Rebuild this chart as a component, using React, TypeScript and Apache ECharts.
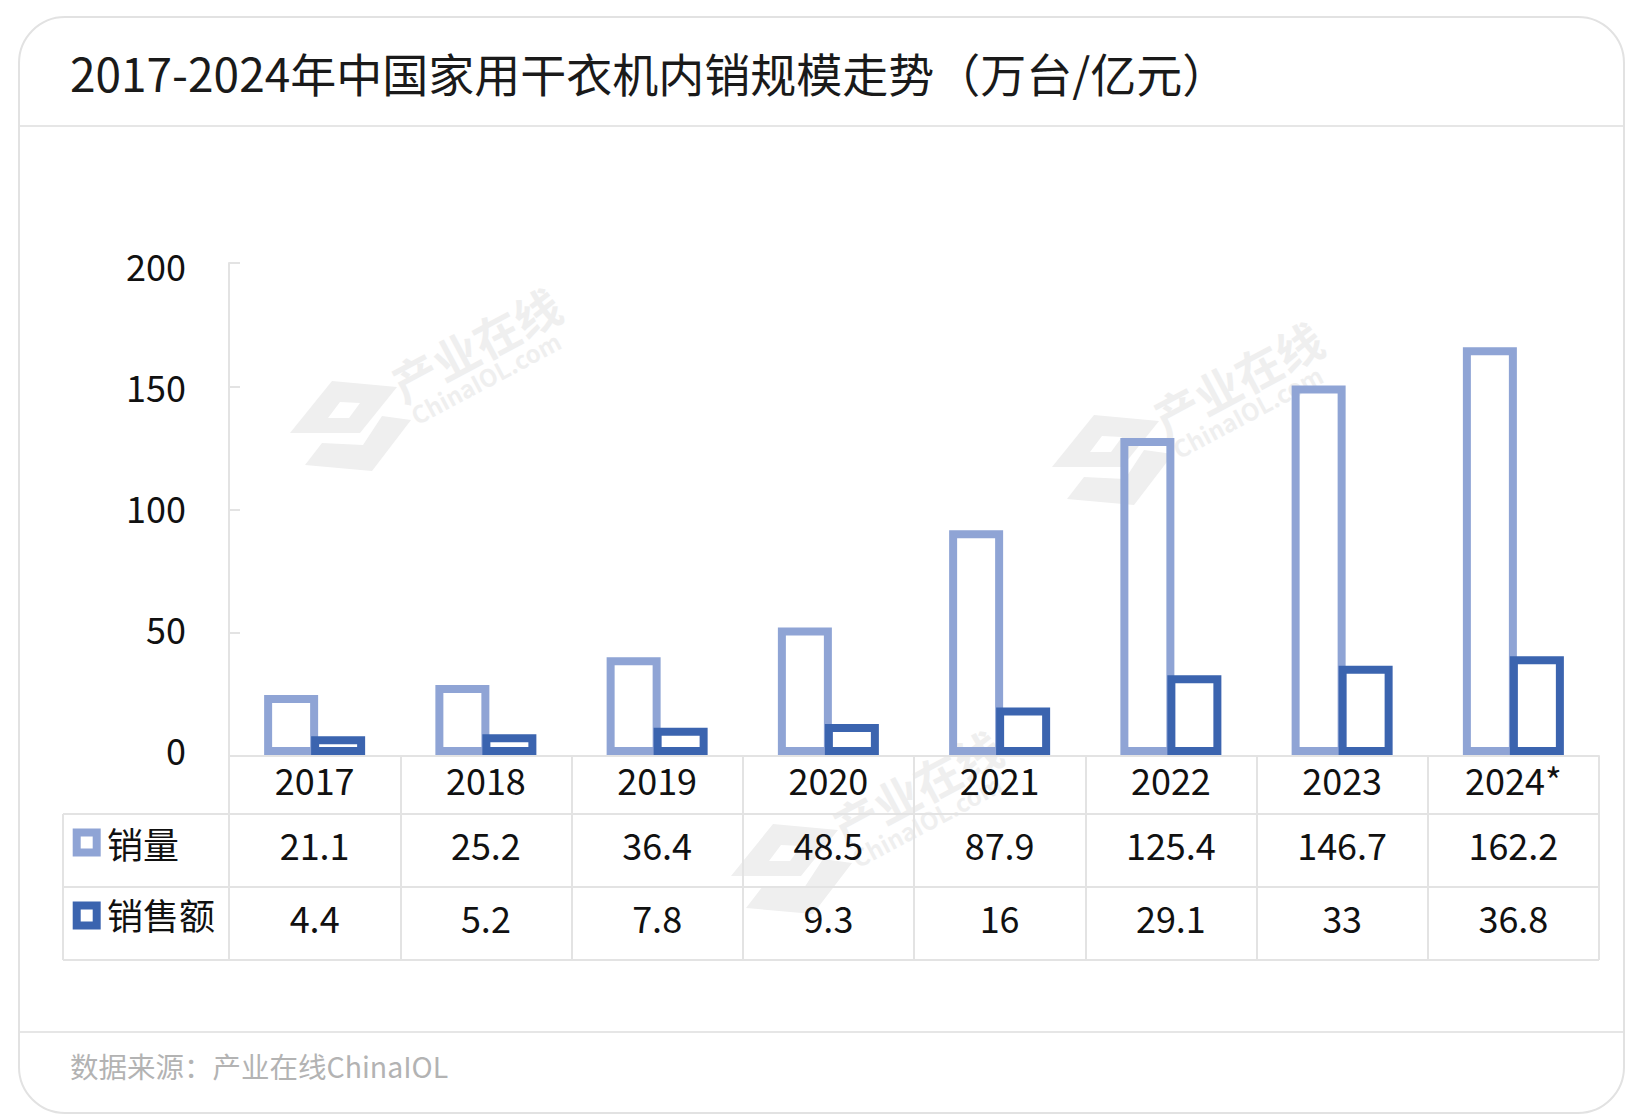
import React, { useEffect, useRef } from "react";
import * as echarts from "echarts";

const years = ["2017", "2018", "2019", "2020", "2021", "2022", "2023", "2024*"];
const salesVolume = [21.1, 25.2, 36.4, 48.5, 87.9, 125.4, 146.7, 162.2];
const salesAmount = [4.4, 5.2, 7.8, 9.3, 16, 29.1, 33, 36.8];
const seriesNames = ["销量", "销售额"];
const yMin = 0;
const yMax = 200;
const yInterval = 50;

const titleText = "2017-2024年中国家用干衣机内销规模走势（万台/亿元）";
const sourceText = "数据来源：产业在线ChinaIOL";

const LIGHT = "#8FA4D5";
const DARK = "#3B64AF";
const GRID_LINE = "#e3e3e3";
const FONT = "'Noto Sans CJK SC', 'Noto Sans', sans-serif";

const W = 1634;
const H = 1116;

const BAR_W = 46;
const BAR_GAP = 1;
const BORDER = 8;

function watermark(ox: number, oy: number) {
  const c = "#efefef";
  return {
    type: "group",
    z: -10,
    silent: true,
    children: [
      {
        type: "polygon",
        shape: { points: [[ox + 42, oy], [ox + 107, oy + 6], [ox + 70, oy + 52], [ox, oy + 52]] },
        style: { fill: c },
      },
      {
        type: "polygon",
        shape: { points: [[ox + 92, oy + 35], [ox + 121, oy + 39], [ox + 82, oy + 90], [ox + 15, oy + 84], [ox + 32, oy + 62], [ox + 73, oy + 64]] },
        style: { fill: c },
      },
      {
        type: "polygon",
        shape: { points: [[ox + 50, oy + 21], [ox + 70, oy + 22], [ox + 59, oy + 37], [ox + 38, oy + 37]] },
        style: { fill: "#ffffff" },
      },
      {
        type: "text",
        x: ox + 115,
        y: oy + 26,
        rotation: 0.49,
        style: {
          text: "产业在线",
          fill: c,
          font: `bold 46px ${FONT}`,
          align: "left",
          verticalAlign: "bottom",
        },
      },
      {
        type: "text",
        x: ox + 128,
        y: oy + 46,
        rotation: 0.49,
        style: {
          text: "ChinaIOL.com",
          fill: c,
          font: `bold 24px ${FONT}`,
          align: "left",
          verticalAlign: "bottom",
        },
      },
    ],
  };
}

function makeBarSeries(name: string, values: number[], color: string, side: number, z: number) {
  return {
    name,
    type: "custom",
    xAxisIndex: 3,
    yAxisIndex: 1,
    z,
    data: values.map((v, i) => [i, v]),
    encode: { x: 0, y: 1 },
    renderItem: (params: any, api: any) => {
      const idx = api.value(0);
      const top = api.coord([idx, api.value(1)]);
      const base = api.coord([idx, 0]);
      const cx = top[0] + side * (BAR_W + BAR_GAP) / 2;
      return {
        type: "rect",
        shape: { x: cx - BAR_W / 2, y: top[1], width: BAR_W, height: base[1] - top[1] },
        style: { fill: "none", stroke: color, lineWidth: BORDER },
      };
    },
  };
}

export default function App() {
  const ref = useRef<HTMLDivElement>(null);

  useEffect(() => {
    if (!ref.current) return;
    const chart = echarts.init(ref.current, undefined, { renderer: "svg" });

    const gridLeft = 229;
    const gridRight = 1599;
    const barTop = 258;
    const barBottom = 751;
    const axisTop = 263;
    const axisBottom = 756;
    const labelTop = 265;
    const labelBottom = 749;
    const tableLeft = 63;
    const rowLines = [814, 887, 960];
    const rowCenters = [843, 914];
    const markerCenters = [842.5, 915.5];

    const hLines = rowLines.map((y) => ({
      type: "line",
      z: 1,
      shape: { x1: tableLeft, y1: y, x2: gridRight, y2: y },
      style: { stroke: GRID_LINE, lineWidth: 2 },
    }));

    const rowHeaders: any[] = [];
    seriesNames.forEach((name, i) => {
      rowHeaders.push({
        type: "rect",
        z: 5,
        shape: { x: 76.7, y: markerCenters[i] - 10, width: 20, height: 20 },
        style: { fill: "#ffffff", stroke: i === 0 ? LIGHT : DARK, lineWidth: 8 },
      });
      rowHeaders.push({
        type: "text",
        z: 5,
        x: 107,
        y: rowCenters[i],
        style: {
          text: name,
          fill: "#111111",
          font: `36px ${FONT}`,
          align: "left",
          verticalAlign: "middle",
        },
      });
    });

    const labelStyle = {
      interval: 0,
      verticalAlign: "middle",
      fontSize: 36,
      color: "#111111",
      fontFamily: FONT,
    };

    const option: any = {
      animation: false,
      backgroundColor: "#ffffff",
      grid: [
        { left: gridLeft, top: barTop, width: gridRight - gridLeft, height: barBottom - barTop },
        { left: gridLeft, top: axisTop, width: gridRight - gridLeft, height: axisBottom - axisTop },
        { left: gridLeft, top: labelTop, width: gridRight - gridLeft, height: labelBottom - labelTop },
      ],
      xAxis: [
        {
          type: "category",
          gridIndex: 1,
          data: years,
          position: "bottom",
          axisLine: { show: true, lineStyle: { color: GRID_LINE, width: 2 } },
          axisTick: {
            show: true,
            interval: 0,
            length: rowLines[2] - axisBottom,
            lineStyle: { color: GRID_LINE, width: 2 },
          },
          axisLabel: { ...labelStyle, margin: 22.5 },
        },
        {
          type: "category",
          gridIndex: 1,
          data: salesVolume.map((v) => String(v)),
          position: "bottom",
          axisLine: { show: false },
          axisTick: { show: false },
          axisLabel: { ...labelStyle, margin: 88 },
        },
        {
          type: "category",
          gridIndex: 1,
          data: salesAmount.map((v) => String(v)),
          position: "bottom",
          axisLine: { show: false },
          axisTick: { show: false },
          axisLabel: { ...labelStyle, margin: 161 },
        },
        {
          type: "category",
          gridIndex: 0,
          data: years,
          show: false,
        },
        {
          type: "category",
          gridIndex: 2,
          data: years,
          show: false,
        },
      ],
      yAxis: [
        {
          type: "value",
          gridIndex: 1,
          min: yMin,
          max: yMax,
          interval: yInterval,
          axisLine: { show: true, lineStyle: { color: GRID_LINE, width: 2 } },
          axisTick: { show: true, inside: true, length: 11, lineStyle: { color: GRID_LINE, width: 2 } },
          splitLine: { show: false },
          axisLabel: { show: false },
        },
        {
          type: "value",
          gridIndex: 0,
          min: yMin,
          max: yMax,
          interval: yInterval,
          show: false,
          splitLine: { show: false },
        },
        {
          type: "value",
          gridIndex: 2,
          min: yMin,
          max: yMax,
          interval: yInterval,
          axisLine: { show: false },
          axisTick: { show: false },
          splitLine: { show: false },
          axisLabel: {
            margin: 43,
            fontSize: 36,
            color: "#111111",
            fontFamily: FONT,
          },
        },
      ],
      series: [
        makeBarSeries(seriesNames[0], salesVolume, LIGHT, -1, 3),
        makeBarSeries(seriesNames[1], salesAmount, DARK, 1, 4),
      ],
      graphic: [
        {
          type: "rect",
          z: -20,
          shape: { x: 19, y: 17, width: 1605, height: 1096, r: 46 },
          style: { fill: "#ffffff", stroke: "#e2e2e2", lineWidth: 2 },
        },
        {
          type: "line",
          z: -5,
          shape: { x1: 20, y1: 126, x2: 1623, y2: 126 },
          style: { stroke: "#e6e6e6", lineWidth: 2 },
        },
        {
          type: "line",
          z: -5,
          shape: { x1: 20, y1: 1032, x2: 1623, y2: 1032 },
          style: { stroke: "#e6e6e6", lineWidth: 2 },
        },
        {
          type: "text",
          x: 70,
          y: 72,
          style: {
            text: titleText,
            fill: "#1a1a1a",
            font: `46px ${FONT}`,
            align: "left",
            verticalAlign: "middle",
          },
        },
        {
          type: "text",
          x: 70,
          y: 1065,
          style: {
            text: sourceText,
            fill: "#b3b3b3",
            font: `28.5px ${FONT}`,
            align: "left",
            verticalAlign: "middle",
          },
        },
        watermark(290, 381),
        watermark(1052, 415),
        watermark(731, 824),
        ...hLines,
        {
          type: "line",
          z: 1,
          shape: { x1: tableLeft, y1: rowLines[0], x2: tableLeft, y2: rowLines[2] },
          style: { stroke: GRID_LINE, lineWidth: 2 },
        },
        ...rowHeaders,
      ],
    };

    chart.setOption(option);
    return () => {
      chart.dispose();
    };
  }, []);

  return (
    <div
      ref={ref}
      style={{ position: "fixed", left: 0, top: 0, width: W, height: H, background: "#ffffff" }}
    />
  );
}
